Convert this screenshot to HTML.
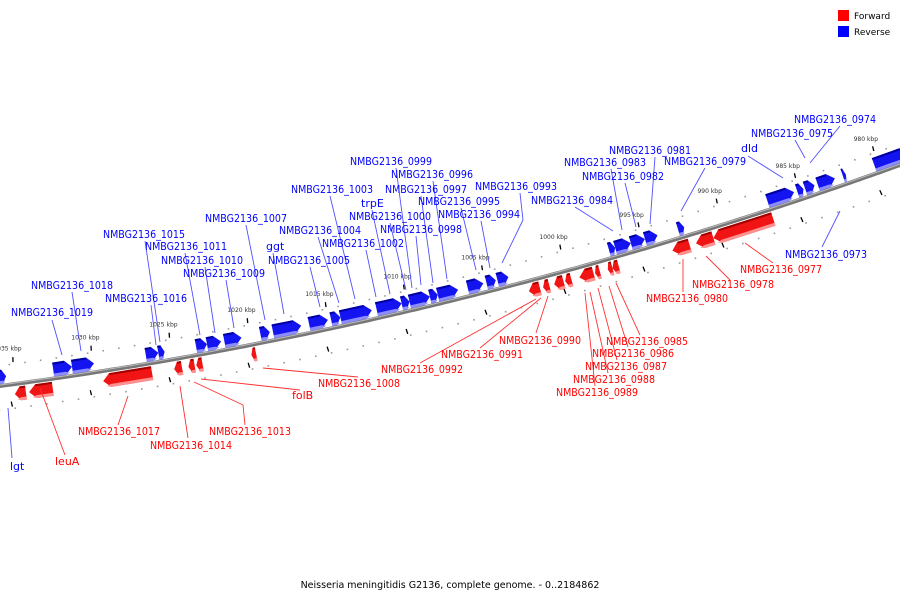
<!DOCTYPE html>
<html><head><meta charset="utf-8"><style>
html,body{margin:0;padding:0;background:#fff;}
svg{display:block;}
text{font-family:"DejaVu Sans","Liberation Sans",sans-serif;}
</style></head><body>
<svg id="chart" width="900" height="600" viewBox="0 0 900 600" xmlns="http://www.w3.org/2000/svg">
<g id="dots"></g>
<g id="axis"></g>
<g id="ticks"></g>
<g id="genes"></g>
<g id="leaders"></g>
<g id="labels"></g>
<g>
<rect x="838" y="10" width="11" height="11" fill="#ff0000"/>
<text x="854" y="19" font-size="9" fill="#000">Forward</text>
<rect x="838" y="26" width="11" height="11" fill="#0000ff"/>
<text x="854" y="35" font-size="9" fill="#000">Reverse</text>
</g>
<text x="450" y="588" font-size="9.5" text-anchor="middle" fill="#000">Neisseria meningitidis G2136, complete genome. - 0..2184862</text>
</svg>
<script>
// ---- data ----
const tickKbp = [1035,1030,1025,1020,1015,1010,1005,1000,995,990,985,980];
const tickLabels = ["1035 kbp","1030 kbp","1025 kbp","1020 kbp","1015 kbp","1010 kbp","1005 kbp","1000 kbp","995 kbp","990 kbp","985 kbp","980 kbp"];
const revStart = [1035.8,1032.3,1031.1,1026.4,1025.6,1023.2,1022.5,1021.4,1019.1,1018.3,1016.0,1014.6,1014.0,1011.7,1010.1,1009.6,1008.3,1007.8,1005.9,1004.7,1004.0,996.9,996.5,995.5,994.6,992.5,986.8,984.9,984.4,983.6,982.0,980.0];
const revEnd   = [1035.3,1031.1,1029.7,1025.6,1025.2,1022.5,1021.6,1020.3,1018.5,1016.5,1014.8,1014.0,1012.0,1010.1,1009.6,1008.3,1007.8,1006.5,1004.9,1004.1,1003.3,996.5,995.5,994.6,993.8,992.1,985.1,984.5,983.8,982.5,981.8,977.8];
const fwdStart = [1034.9,1034.0,1029.3,1024.8,1023.9,1023.4,1019.9,1002.3,1001.4,1000.7,1000.0,999.1,998.1,997.3,997.0,993.2,991.7,990.6];
const fwdEnd   = [1034.2,1032.5,1026.2,1024.3,1023.5,1023.0,1019.6,1001.6,1001.0,1000.1,999.6,998.2,997.8,997.0,996.6,992.1,990.6,986.8];
const labelNames = ["NMBG2136_0974","NMBG2136_0975","dld","NMBG2136_0981","NMBG2136_0979","NMBG2136_0983","NMBG2136_0982","NMBG2136_0999","NMBG2136_0996","NMBG2136_0997","NMBG2136_1003","NMBG2136_0993","NMBG2136_0995","trpE","NMBG2136_0984","NMBG2136_1000","NMBG2136_0994","NMBG2136_1007","NMBG2136_0998","NMBG2136_1004","NMBG2136_1015","ggt","NMBG2136_1002","NMBG2136_1011","NMBG2136_0973","NMBG2136_1010","NMBG2136_1005","NMBG2136_1009","NMBG2136_1018","NMBG2136_1016","NMBG2136_1019","lgt",
"NMBG2136_0977","NMBG2136_0978","NMBG2136_0980","NMBG2136_0985","NMBG2136_0990","NMBG2136_0986","NMBG2136_0991","NMBG2136_0987","NMBG2136_0992","NMBG2136_0988","NMBG2136_1008","NMBG2136_0989","folB","NMBG2136_1017","NMBG2136_1013","NMBG2136_1014","leuA"];
const labelStrand = "RRRRRRRRRRRRRRRRRRRRRRRRRRRRRRRRFFFFFFFFFFFFFFFFF";
// layout (label placement, not data)
const labelPos = [[794,123],[751,137],[741,152],[609,154],[664,165],[564,166],[582,180],[350,165],[391,178],[385,193],[291,193],[475,190],[418,205],[361,207],[531,204],[349,220],[438,218],[205,222],[380,233],[279,234],[103,238],[266,250],[322,247],[145,250],[785,258],[161,264],[268,264],[183,277],[31,289],[105,302],[11,316],[10,470],
[740,273],[692,288],[646,302],[606,345],[499,344],[592,357],[441,358],[585,370],[381,373],[573,383],[318,387],[556,396],[292,399],[78,435],[209,435],[150,449],[55,465]];
const leaderPts = [
[[840,126],[810,163]],[[795,140],[805,158]],[[748,156],[783,178]],[[655,157],[650,224]],[[705,168],[681,211]],[[611,169],[622,230]],[[625,183],[636,227]],
[[396,168],[412,288]],[[433,181],[447,279]],[[421,196],[433,283]],[[330,196],[355,299]],[[520,193],[523,220],[502,263]],[[461,208],[476,270]],[[372,210],[390,294]],
[[575,207],[613,231]],[[390,223],[406,290]],[[481,221],[490,268]],[[246,225],[265,320]],[[416,236],[421,285]],[[318,237],[339,303]],[[145,241],[160,342]],
[[273,253],[284,314]],[[366,250],[376,297]],[[185,253],[200,335]],[[822,247],[840,211]],[[205,267],[215,333]],[[310,267],[320,307]],[[226,280],[234,328]],
[[72,292],[81,351]],[[151,305],[156,345]],[[52,320],[62,355]],[[12,458],[8,408]],
[[773,263],[745,243]],[[730,280],[706,256]],[[683,292],[683,259]],[[640,335],[616,283]],[[536,333],[548,296]],[[628,347],[609,286]],[[480,348],[541,298]],
[[617,360],[598,288]],[[420,363],[536,299]],[[608,373],[590,292]],[[358,377],[263,368]],[[595,386],[585,293]],[[300,390],[201,379]],[[118,425],[128,396]],
[[245,425],[243,405],[194,382]],[[188,438],[180,386]],[[65,455],[40,388]]];

// ---- geometry ----
const NS="http://www.w3.org/2000/svg";
function xOf(k){return 12+(1035-k)*15.73;}
function yc(x){return 386-0.1322*x-1.259e-4*x*x;}
function pt(x,off){const s=-0.1322-2.518e-4*x;const L=Math.sqrt(1+s*s);return [x+off*s/L, yc(x)-off/L];}
function mk(tag,attrs,parent){const e=document.createElementNS(NS,tag);for(const k in attrs)e.setAttribute(k,attrs[k]);parent.appendChild(e);return e;}
function P(a){return a.map(p=>p[0].toFixed(1)+","+p[1].toFixed(1)).join(" ");}

// axis
const axisG=document.getElementById('axis');
let ap=[];for(let x=-10;x<=910;x+=5)ap.push([x,yc(x)]);
const a1=mk('polyline',{points:P(ap),fill:'none',stroke:'#777',"stroke-width":4},axisG);


const a2=mk('polyline',{points:P(ap.map(p=>[p[0],p[1]-1])),fill:'none',stroke:'#bbb',"stroke-width":1},axisG);



// dots and ticks
const dotsG=document.getElementById('dots');
for(let k=1037;k>=977;k--){
  const x=xOf(k);
  [[-24],[20]].forEach(o=>{const p=pt(x,o[0]);const d=mk('rect',{x:p[0]-0.8,y:p[1]-0.8,width:1.6,height:1.6,fill:'#999'},dotsG);
  
  });
}
const ticksG=document.getElementById('ticks');
tickKbp.forEach((k,i)=>{
  const x=xOf(k);
  const m1=pt(x-3,-17),m2=pt(x-3,-22);
  const t1=mk('line',{x1:m1[0],y1:m1[1],x2:m2[0]+0.5,y2:m2[1],stroke:'#000',"stroke-width":1.3},ticksG);
  
  
  const n1=pt(x+4,22),n2=pt(x+4,27);
  const t2=mk('line',{x1:n1[0],y1:n1[1],x2:n2[0]+0.5,y2:n2[1],stroke:'#000',"stroke-width":1.3},ticksG);
  
  
  const lp=pt(x,34);
  const tl=mk('text',{x:lp[0],y:lp[1],"font-size":6,"text-anchor":"middle",fill:'#333'},ticksG);
  tl.textContent=tickLabels[i];
  
  
});

// genes
const genesG=document.getElementById('genes');
function gene(x1,x2,fwd){
  const len=x2-x1;const h=Math.min(7,len*0.5);
  const g=mk('g',{},genesG);
  
  
  if(!fwd){
    const o1=2,o2=16,om=9;
    mk('polygon',{points:P([pt(x1,o1),pt(x1,o2),pt(x2-h,o2),pt(x2,om),pt(x2-h,o1)]),fill:'#1414f0'},g);
    mk('polygon',{points:P([pt(x1,o1),pt(x1,o1+3),pt(x2-h,o1+3),pt(x2-h*0.4,o1+1.5),pt(x2-h,o1)]),fill:'#8c8cff'},g);
    mk('polygon',{points:P([pt(x1,o2-2),pt(x1,o2),pt(x2-h,o2),pt(x2-h,o2-2)]),fill:'#0000a0'},g);
  } else {
    const o1=-3,o2=-17,om=-10;
    mk('polygon',{points:P([pt(x2,o1),pt(x2,o2),pt(x1+h,o2),pt(x1,om),pt(x1+h,o1)]),fill:'#f01414'},g);
    mk('polygon',{points:P([pt(x2,o2),pt(x2,o2+3),pt(x1+h,o2+3),pt(x1+h*0.4,o2+1.5),pt(x1+h,o2)]),fill:'#ff9090'},g);
    mk('polygon',{points:P([pt(x2,o1),pt(x2,o1-2),pt(x1+h,o1-2),pt(x1+h,o1)]),fill:'#a00000'},g);
  }
}
revStart.forEach((s,i)=>gene(xOf(s),xOf(revEnd[i]),false));
fwdStart.forEach((s,i)=>gene(xOf(s),xOf(fwdEnd[i]),true));

// labels
const leadG=document.getElementById('leaders'),labG=document.getElementById('labels');
labelNames.forEach((n,i)=>{
  const fwd=labelStrand[i]==='F';const col=fwd?'#ff0000':'#0000ff';
  const lc=fwd?'#ff3030':'#5050ff';
  const pl=mk('polyline',{points:P(leaderPts[i]),fill:'none',stroke:lc,"stroke-width":0.9},leadG);
  
  
  const attrs={x:labelPos[i][0],y:labelPos[i][1],"font-size":11,fill:col};
  if(n.length>5){attrs.textLength=82;attrs.lengthAdjust='spacingAndGlyphs';}
  const t=mk('text',attrs,labG);
  t.textContent=n;
  
  
});
</script>
</body></html>
